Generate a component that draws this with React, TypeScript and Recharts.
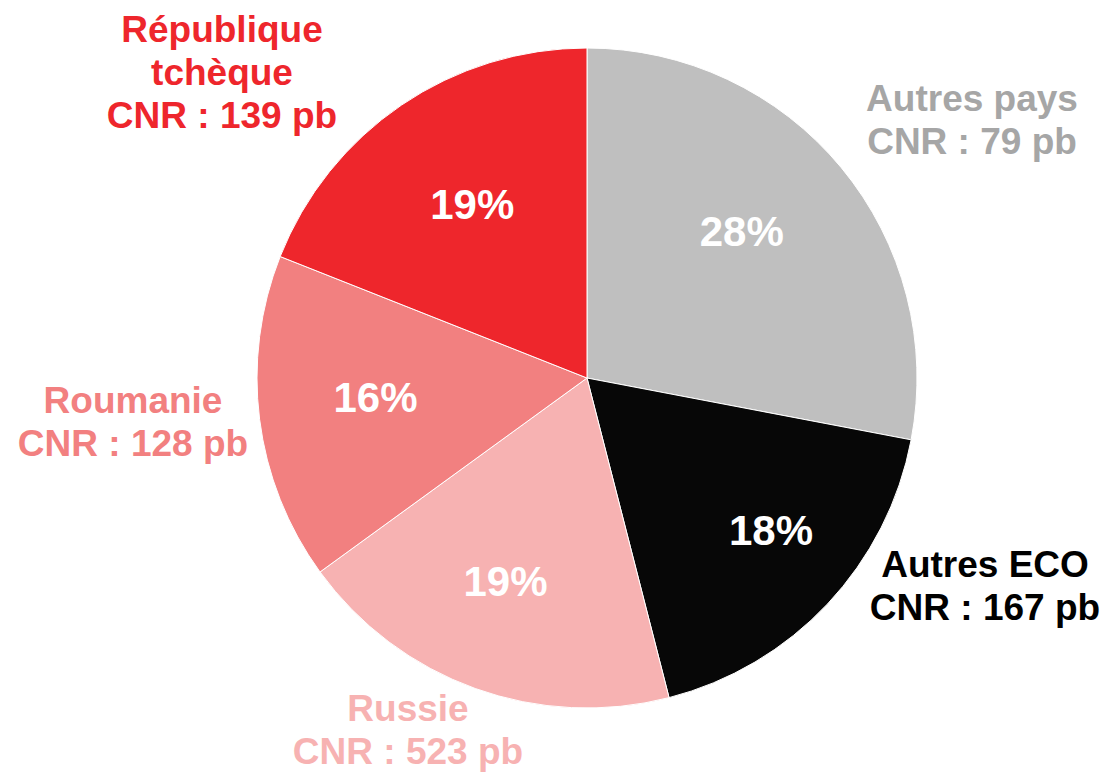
import { FC } from "react";
import { PieChart, Pie, Cell } from "recharts";

const countries = ["Autres pays", "Autres ECO", "Russie", "Roumanie", "République tchèque"];
const shares = [28, 18, 19, 16, 19];
const cnr = [79, 167, 523, 128, 139];
const sliceColors = ["#BFBFBF", "#070707", "#F7B2B2", "#F28080", "#EE262C"];
const textColors = ["#A6A6A6", "#000000", "#F7B2B2", "#F28080", "#EE262C"];
// outside label lines, and where each label block is centred (relative to the pie centre)
const nameLines = [["Autres pays"], ["Autres ECO"], ["Russie"], ["Roumanie"], ["République", "tchèque"]];
const labelSpots = [
  [385, -258],
  [398, 208],
  [-179, 352],
  [-454, 44],
  [-365, -306],
];
// small nudges of the percentage labels away from the plain radial spot
const pctNudge = [
  [-8, -12],
  [30, 8],
  [-10, 5],
  [-2, -7],
  [4, 1],
];

const CX = 587;
const CY = 378;
const R = 330;
const FONT = "Arial, 'Liberation Sans', Helvetica, sans-serif";

const data = countries.map((name, i) => ({ name, value: shares[i] }));

const renderLabel = (props: any) => {
  const { cx, cy, midAngle, outerRadius, index } = props;
  const RAD = Math.PI / 180;
  const r = outerRadius * 0.64;
  const x = cx + r * Math.cos(-midAngle * RAD) + pctNudge[index][0];
  const y = cy + r * Math.sin(-midAngle * RAD) + pctNudge[index][1];
  const lines = [...nameLines[index], `CNR : ${cnr[index]} pb`];
  const [dx, dy] = labelSpots[index];
  const lh = 43;
  const top = cy + dy - ((lines.length - 1) * lh) / 2;
  return (
    <g>
      <text
        x={x}
        y={y}
        fill="#fff"
        textAnchor="middle"
        dominantBaseline="central"
        fontSize={42}
        fontWeight="bold"
        fontFamily={FONT}
      >
        {shares[index]}%
      </text>
      <text
        textAnchor="middle"
        fill={textColors[index]}
        fontSize={37}
        fontWeight="bold"
        fontFamily={FONT}
      >
        {lines.map((l, k) => (
          <tspan key={k} x={cx + dx} y={top + k * lh} dominantBaseline="central">
            {l}
          </tspan>
        ))}
      </text>
    </g>
  );
};

const App: FC = () => {
  return (
    <div style={{ position: "absolute", left: 0, top: 0 }}>
      <PieChart width={1112} height={773} margin={{ top: 0, right: 0, bottom: 0, left: 0 }}>
        <Pie
          data={data}
          dataKey="value"
          nameKey="name"
          cx={CX}
          cy={CY}
          outerRadius={R}
          startAngle={90}
          endAngle={-270}
          stroke="#ffffff"
          strokeWidth={1}
          label={renderLabel}
          labelLine={false}
          isAnimationActive={false}
        >
          {data.map((d, i) => (
            <Cell key={d.name} fill={sliceColors[i]} />
          ))}
        </Pie>
      </PieChart>
    </div>
  );
};

export default App;
